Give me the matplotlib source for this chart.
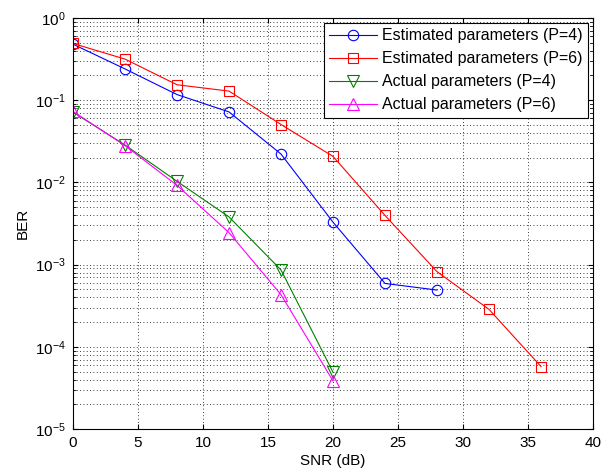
import matplotlib
matplotlib.use('Agg')
import matplotlib.pyplot as plt
import matplotlib.ticker as ticker
import numpy as np

plt.rcParams['font.family'] = ['Liberation Sans', 'DejaVu Sans']
plt.rcParams['mathtext.fontset'] = 'custom'
plt.rcParams['mathtext.rm'] = 'Liberation Sans'

snr_est_p4 = [0, 4, 8, 12, 16, 20, 24, 28]
ber_est_p4 = [0.48, 0.24, 0.117, 0.072, 0.0221, 0.00328, 5.9e-4, 4.9e-4]

snr_est_p6 = [0, 4, 8, 12, 16, 20, 24, 28, 32, 36]
ber_est_p6 = [0.49, 0.316, 0.154, 0.129, 0.0506, 0.0207, 0.00396, 8.2e-4, 2.85e-4, 5.75e-5]

snr_act_p4 = [0, 4, 8, 12, 16, 20]
ber_act_p4 = [0.0714, 0.0285, 0.0103, 0.0038, 8.6e-4, 4.9e-5]

snr_act_p6 = [0, 4, 8, 12, 16, 20]
ber_act_p6 = [0.073, 0.028, 0.0092, 0.00245, 4.3e-4, 3.85e-5]

labels = ['Estimated parameters (P=4)', 'Estimated parameters (P=6)',
          'Actual parameters (P=4)', 'Actual parameters (P=6)']

fig = plt.figure(figsize=(6.1, 4.73), dpi=100)
ax = fig.add_axes([0.1197, 0.093, 0.8525, 0.869])

ax.semilogy(snr_est_p4, ber_est_p4, '-o', color='blue', mfc='none', ms=7.5, lw=0.8, mew=0.8, label=labels[0])
ax.semilogy(snr_est_p6, ber_est_p6, '-s', color='red', mfc='none', ms=7.5, lw=0.8, mew=0.8, label=labels[1])
ax.semilogy(snr_act_p4, ber_act_p4, '-v', color='#008000', mfc='none', ms=8, lw=0.8, mew=0.8, label=labels[2])
ax.semilogy(snr_act_p6, ber_act_p6, '-^', color='magenta', mfc='none', ms=8, lw=0.8, mew=0.8, label=labels[3])

ax.set_xlim(0, 40)
ax.set_ylim(1e-5, 1)
ax.xaxis.set_major_locator(ticker.MultipleLocator(5))
ax.yaxis.set_major_locator(ticker.LogLocator(base=10, numticks=10))
ax.yaxis.set_minor_locator(ticker.LogLocator(base=10, subs=np.arange(2, 10), numticks=20))
ax.yaxis.set_minor_formatter(ticker.NullFormatter())

ax.grid(True, which='major', linestyle=(0, (1, 3)), color='black', lw=0.6)
ax.grid(True, which='minor', axis='y', linestyle=(0, (1, 3)), color='black', lw=0.6)
ax.tick_params(which='both', direction='in', top=True, right=True, labelsize=11, pad=5)
ax.tick_params(which='minor', length=2.5)
for s in ax.spines.values():
    s.set_linewidth(0.8)

ax.set_xlabel('SNR (dB)', fontsize=11, labelpad=3)
ax.set_ylabel('BER', fontsize=11, labelpad=4)

leg = ax.legend(loc='upper right', fontsize=11.5, frameon=True, fancybox=False,
                edgecolor='black', framealpha=1, borderaxespad=0.3,
                handlelength=3.0, labelspacing=0.5, borderpad=0.35, handletextpad=0.3)
leg.get_frame().set_linewidth(0.8)

fig.savefig('out.png', dpi=100)
